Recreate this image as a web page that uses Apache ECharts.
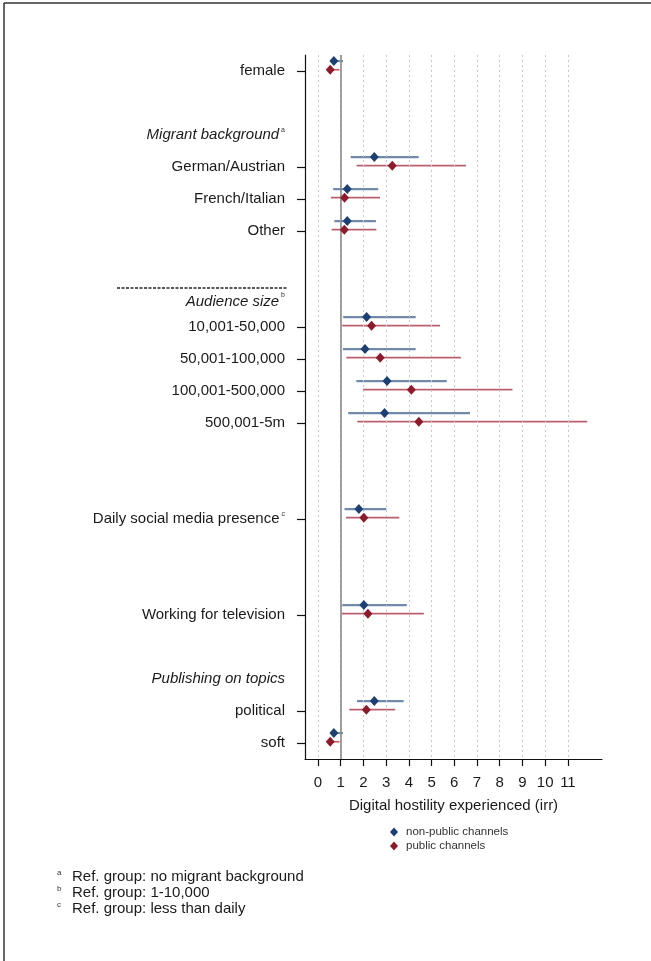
<!DOCTYPE html>
<html>
<head>
<meta charset="utf-8">
<script src="https://cdn.jsdelivr.net/npm/echarts@6/dist/echarts.min.js"></script>
<style>
html,body{margin:0;padding:0;background:#fff;}
#chart{width:651px;height:961px;}
</style>
</head>
<body>
<div id="chart"></div>
<script>
// Row layout of the y axis (top to bottom); '' = empty slot
const rowLabels = ['female', '', 'Migrant background', 'German/Austrian', 'French/Italian', 'Other', '',
  'Audience size', '10,001-50,000', '50,001-100,000', '100,001-500,000', '500,001-5m', '', '',
  'Daily social media presence', '', '', 'Working for television', '', 'Publishing on topics', 'political', 'soft'];
const headerRows = ['Migrant background', 'Audience size', 'Publishing on topics'];
const noteMarks = { 'Migrant background': 'a', 'Audience size': 'b', 'Daily social media presence': 'c' };

// Estimated rows
const dataRows = ['female', 'German/Austrian', 'French/Italian', 'Other', '10,001-50,000', '50,001-100,000',
  '100,001-500,000', '500,001-5m', 'Daily social media presence', 'Working for television', 'political', 'soft'];

const nonPublicIrr  = [0.70, 2.48, 1.29, 1.29, 2.14, 2.07, 3.04, 2.93, 1.80, 2.02, 2.48, 0.70];
const nonPublicLow  = [0.54, 1.44, 0.67, 0.72, 1.11, 1.10, 1.69, 1.33, 1.17, 1.07, 1.72, 0.57];
const nonPublicHigh = [1.10, 4.43, 2.65, 2.55, 4.30, 4.30, 5.67, 6.69, 3.01, 3.91, 3.77, 1.10];

const publicIrr  = [0.54, 3.27, 1.17, 1.16, 2.36, 2.74, 4.11, 4.44, 2.02, 2.20, 2.13, 0.54];
const publicLow  = [0.40, 1.70, 0.57, 0.60, 1.07, 1.25, 1.98, 1.73, 1.23, 1.04, 1.38, 0.40];
const publicHigh = [0.95, 6.51, 2.73, 2.57, 5.37, 6.29, 8.56, 11.85, 3.58, 4.66, 3.40, 0.95];

const xTicks = [0, 1, 2, 3, 4, 5, 6, 7, 8, 9, 10, 11];
const seriesNames = ['non-public channels', 'public channels'];
const footnotes = [['a', 'Ref. group: no migrant background'], ['b', 'Ref. group: 1-10,000'], ['c', 'Ref. group: less than daily']];

// styling
const BLUE = '#1d3f72', BLUE_CI = '#6f8aab';
const RED = '#8c1c2c', RED_CI = '#b95f6d';
const OFF_BLUE = -0.31, OFF_RED = -0.04;
const FONT = 'Liberation Sans, Arial, Helvetica, sans-serif';
const FS = 15;

function rowIdx(name) { return rowLabels.indexOf(name); }

function ciData(lo, hi, off) {
  return dataRows.map((r, i) => [lo[i], hi[i], rowIdx(r) + off]);
}
function ptData(v, off) {
  return dataRows.map((r, i) => [v[i], rowIdx(r) + off]);
}

function ciSeries(lo, hi, off, color, width) {
  return {
    type: 'custom', xAxisIndex: 0, yAxisIndex: 1, silent: true, z: 3,
    data: ciData(lo, hi, off),
    renderItem: function (params, api) {
      const a = api.coord([api.value(0), api.value(2)]);
      const b = api.coord([api.value(1), api.value(2)]);
      return { type: 'line', shape: { x1: a[0], y1: a[1], x2: b[0], y2: b[1] },
        style: { stroke: color, lineWidth: width } };
    }
  };
}

const chart = echarts.init(document.getElementById('chart'), null, { renderer: 'canvas' });

const option = {
  animation: false,
  backgroundColor: '#fff',
  textStyle: { fontFamily: FONT },
  grid: { left: 305, top: 55, width: 297, height: 704, containLabel: false },
  xAxis: [{
    type: 'value', min: -0.57, max: 12.5, position: 'bottom',
    axisLine: { show: true, onZero: false, lineStyle: { color: '#111', width: 1.2 } },
    axisTick: { show: true, customValues: xTicks, length: 7, lineStyle: { color: '#111', width: 1.2 } },
    axisLabel: { customValues: xTicks, fontSize: FS, color: '#1a1a1a', margin: 16, fontFamily: FONT },
    splitLine: { show: false },
    name: 'Digital hostility experienced (irr)', nameLocation: 'middle', nameGap: 39,
    nameTextStyle: { fontSize: 15, color: '#1a1a1a', fontFamily: FONT }
  }],
  yAxis: [{
    type: 'category', inverse: true, data: rowLabels, boundaryGap: true, position: 'left',
    axisLine: { show: true, onZero: false, lineStyle: { color: '#111', width: 1.2 } },
    axisTick: {
      show: true, alignWithLabel: true, length: 8, lineStyle: { color: '#111', width: 1.2 },
      interval: function (idx, val) { return dataRows.indexOf(val) >= 0; }
    },
    axisLabel: {
      interval: 0, margin: 20, fontSize: FS, color: '#1a1a1a', fontFamily: FONT,
      formatter: function (v) {
        if (!v) return '';
        const isH = headerRows.indexOf(v) >= 0;
        const shift = v === 'Audience size';
        let s = '{' + (isH ? (shift ? 'h2' : 'h') : 'n') + '|' + v + '}';
        if (noteMarks[v]) s += '{' + (shift ? 's2' : 's') + '| ' + noteMarks[v] + '}';
        return s;
      },
      rich: {
        n: { fontSize: FS, color: '#1a1a1a', fontFamily: FONT, lineHeight: 17 },
        h: { fontSize: FS, color: '#1a1a1a', fontStyle: 'italic', fontFamily: FONT, lineHeight: 17 },
        h2: { fontSize: FS, color: '#1a1a1a', fontStyle: 'italic', fontFamily: FONT, lineHeight: 17, padding: [14, 0, 0, 0] },
        s: { fontSize: 7, color: '#333', fontFamily: FONT, verticalAlign: 'top', lineHeight: 17 },
        s2: { fontSize: 7, color: '#333', fontFamily: FONT, verticalAlign: 'top', lineHeight: 17, padding: [5, 0, 0, 0] }
      }
    },
    splitLine: { show: false }
  }, {
    type: 'value', inverse: true, min: -0.5, max: rowLabels.length - 0.5, show: false
  }],
  legend: {
    data: seriesNames.map(n => ({ name: n, icon: 'diamond' })),
    orient: 'vertical', left: 385, top: 821, itemWidth: 8, itemHeight: 9, itemGap: 2,
    textStyle: { fontSize: 11.5, color: '#333', fontFamily: FONT, padding: [0, 0, 0, 3] }
  },
  series: [
    {
      type: 'line', name: '_grid', xAxisIndex: 0, yAxisIndex: 1, data: [], silent: true, z: 1,
      markLine: {
        silent: true, symbol: ['none', 'none'], label: { show: false }, animation: false,
        data: xTicks.map(t => ({ xAxis: t, lineStyle: { color: '#c9c9c9', type: [2, 3], width: 1 } }))
          .concat([{ xAxis: 1, lineStyle: { color: '#8a8a8a', type: 'solid', width: 1.6 } }])
      }
    },
    ciSeries(nonPublicLow, nonPublicHigh, OFF_BLUE, BLUE_CI, 2.2),
    ciSeries(publicLow, publicHigh, OFF_RED, RED_CI, 1.7),
    {
      type: 'scatter', name: seriesNames[0], xAxisIndex: 0, yAxisIndex: 1, z: 5,
      symbol: 'diamond', symbolSize: [9, 10], itemStyle: { color: BLUE, opacity: 1 },
      data: ptData(nonPublicIrr, OFF_BLUE)
    },
    {
      type: 'scatter', name: seriesNames[1], xAxisIndex: 0, yAxisIndex: 1, z: 5,
      symbol: 'diamond', symbolSize: [9, 10], itemStyle: { color: RED, opacity: 1 },
      data: ptData(publicIrr, OFF_RED)
    }
  ],
  graphic: [
    { type: 'line', shape: { x1: 4, y1: 3, x2: 651, y2: 3 }, style: { stroke: '#333', lineWidth: 1.5 } },
    { type: 'line', shape: { x1: 4, y1: 3, x2: 4, y2: 961 }, style: { stroke: '#333', lineWidth: 1.5 } },
    { type: 'line', shape: { x1: 117, y1: 288, x2: 287, y2: 288 }, style: { stroke: '#222', lineWidth: 1.5, lineDash: [3, 1.5] } },
    {
      type: 'text', left: 57, top: 869,
      style: {
        text: footnotes.map(f => '{s|' + f[0] + '}{t|' + f[1] + '}').join('\n'),
        rich: {
          s: { fontSize: 8, fill: '#333', verticalAlign: 'top', lineHeight: 16, fontFamily: FONT, width: 15 },
          t: { fontSize: FS, fill: '#1a1a1a', lineHeight: 16, fontFamily: FONT }
        }
      }
    }
  ]
};
chart.setOption(option);
</script>
</body>
</html>
